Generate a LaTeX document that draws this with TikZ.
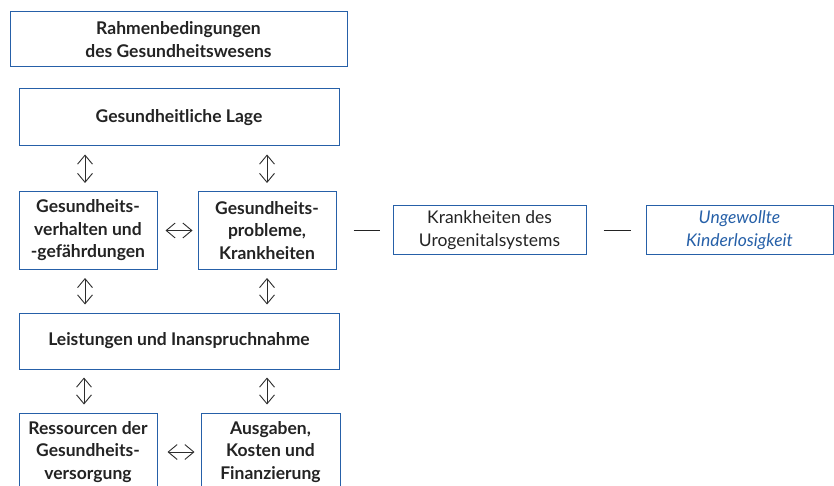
\documentclass[tikz,border=0pt]{standalone}
\usepackage{fontspec}
\setmainfont{Lato}
\usetikzlibrary{arrows.meta}
\definecolor{boxblue}{RGB}{38,96,168}
\definecolor{txt}{RGB}{35,35,35}
\definecolor{arrgray}{RGB}{45,45,45}
\tikzset{
  box/.style={draw=boxblue, line width=1pt, align=center, inner sep=0pt, text=txt,
    font=\fontsize{17.5}{22.5}\selectfont\bfseries},
  plainbox/.style={box, font=\fontsize{17.5}{22.5}\selectfont},
  itbox/.style={box, font=\fontsize{17.5}{22.5}\selectfont\itshape, text=boxblue},
  arr/.style={draw=arrgray, line width=0.9pt, {Straight Barb[length=9pt,width=15pt]}-{Straight Barb[length=9pt,width=15pt]}},
  lnk/.style={draw=txt, line width=0.9pt}
}
\begin{document}
\begin{tikzpicture}[x=1pt,y=-1pt]
\useasboundingbox (0,0) rectangle (834,486);
\clip (0,0) rectangle (834,486);
\node[box, minimum width=337, minimum height=55] (b1) at (178.5,39.5) {Rahmenbedingungen\\des Gesundheitswesens};
\node[box, minimum width=320, minimum height=57] (b2) at (179,117.5) {Gesundheitliche Lage};
\node[box, minimum width=138, minimum height=78] (b3) at (88,230.5) {Gesundheits-\\verhalten und\\-gefährdungen};
\node[box, minimum width=138, minimum height=78] (b4) at (267,230.5) {Gesundheits-\\probleme,\\Krankheiten};
\node[plainbox, minimum width=193, minimum height=48] (b5) at (489.5,230) {Krankheiten des\\Urogenitalsystems};
\node[itbox, minimum width=187, minimum height=48] (b6) at (739.5,230) {Ungewollte\\Kinderlosigkeit};
\node[box, minimum width=320, minimum height=56] (b7) at (179,341) {Leistungen und Inanspruchnahme};
\node[box, minimum width=138, minimum height=78] (b8) at (88,452) {Ressourcen der\\Gesundheits-\\versorgung};
\node[box, minimum width=139, minimum height=78] (b9) at (270.5,452) {Ausgaben,\\Kosten und\\Finanzierung};
% vertical arrows
\draw[arr, shorten <=8pt, shorten >=8pt] ([xshift=-3pt]b3.north) -- ([xshift=-3pt]b3.north |- b2.south);
\draw[arr, shorten <=8pt, shorten >=8pt] (b4.north) -- (b4.north |- b2.south);
\draw[arr, shorten <=8pt, shorten >=8pt] ([xshift=-3pt]b3.south) -- ([xshift=-3pt]b3.south |- b7.north);
\draw[arr, shorten <=8pt, shorten >=8pt] (b4.south) -- (b4.south |- b7.north);
\draw[arr, shorten <=8pt, shorten >=8pt] ([xshift=-4pt]b8.north) -- ([xshift=-4pt]b8.north |- b7.south);
\draw[arr, shorten <=8pt, shorten >=8pt] (b9.north -| b4.south) -- (b4.south |- b7.south);
% horizontal arrows
\draw[arr, shorten <=8pt, shorten >=5pt] (b3.east) -- (b4.west);
\draw[arr, shorten <=10pt, shorten >=6pt] (b8.east) -- (b8.east -| b9.west);
% links
\draw[lnk, shorten <=17pt, shorten >=13pt] (b4.east) -- (b4.east -| b5.west);
\draw[lnk, shorten <=17pt, shorten >=15pt] (b5.east) -- (b6.west);
\end{tikzpicture}
\end{document}
